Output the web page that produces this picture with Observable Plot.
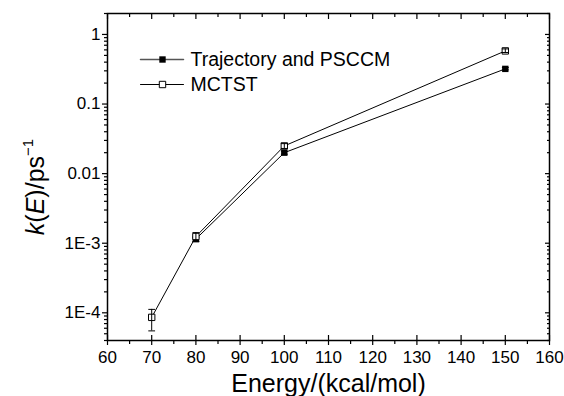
<!DOCTYPE html>
<html><head><meta charset="utf-8">
<script src="https://cdn.jsdelivr.net/npm/d3@7"></script>
<script src="https://cdn.jsdelivr.net/npm/@observablehq/plot@0.6"></script>
<style>body{margin:0;background:#fff}</style>
</head><body><div id="chart"></div>
<script>
// ---- data ----
const seriesNames = ["Trajectory and PSCCM", "MCTST"];
const trajEnergies = [80, 100, 150];
const trajValues = [1.15e-3, 0.020, 0.32];
const trajLow = [1.07e-3, 0.019, 0.31];
const trajHigh = [1.22e-3, 0.021, 0.335];
const mctstEnergies = [70, 80, 100, 150];
const mctstValues = [8.6e-5, 1.25e-3, 0.025, 0.58];
const mctstLow = [5.5e-5, 1.05e-3, 0.023, 0.55];
const mctstHigh = [1.12e-4, 1.42e-3, 0.027, 0.62];
const xTicks = [60, 70, 80, 90, 100, 110, 120, 130, 140, 150, 160];
const xMinorTicks = [65, 75, 85, 95, 105, 115, 125, 135, 145, 155];
const yTicks = [1e-4, 1e-3, 0.01, 0.1, 1];
const yTickLabels = ["1E-4", "1E-3", "0.01", "0.1", "1"];
const xLabel = "Energy/(kcal/mol)";

const traj = trajEnergies.map((e, i) => ({energy: e, value: trajValues[i], low: trajLow[i], high: trajHigh[i]}));
const mctst = mctstEnergies.map((e, i) => ({energy: e, value: mctstValues[i], low: mctstLow[i], high: mctstHigh[i]}));

const yDomain = [4e-5, 2];
const yMinorTicks = [];
for (let e = -5; e <= 0; e++) for (let k = 2; k <= 9; k++) {
  const v = k * Math.pow(10, e);
  if (v >= yDomain[0] && v <= yDomain[1]) yMinorTicks.push(v);
}

const font = "'Liberation Sans', Arial, Helvetica, sans-serif";
const lineShape = {draw(ctx, l) { ctx.moveTo(0, 0); ctx.lineTo(0, -l); }};
const blank = () => "";

const errBars = (data) => [
  Plot.ruleX(data, {x: "energy", y1: "low", y2: "high", stroke: "#000", strokeWidth: 1}),
  Plot.vector(data, {x: "energy", y: "low", rotate: 90, length: 6, anchor: "middle", shape: lineShape, stroke: "#000", strokeWidth: 1}),
  Plot.vector(data, {x: "energy", y: "high", rotate: 90, length: 6, anchor: "middle", shape: lineShape, stroke: "#000", strokeWidth: 1})
];

const chart = Plot.plot({
  width: 564, height: 396,
  marginTop: 13, marginRight: 15, marginBottom: 56, marginLeft: 107,
  style: {fontFamily: font, fontSize: "17px", color: "#000", background: "#fff"},
  x: {domain: [60, 160]},
  y: {type: "log", domain: yDomain},
  marks: [
    // axes
    Plot.axisX({anchor: "bottom", ticks: xTicks, tickSize: 0, tickPadding: 10, tickFormat: d => String(d), label: null, fontSize: 17}),
    Plot.axisX({anchor: "bottom", ticks: xTicks, tickSize: 10, dy: -5, tickFormat: blank, label: null, strokeWidth: 1.2}),
    Plot.axisX({anchor: "bottom", ticks: xMinorTicks, tickSize: 4, tickFormat: blank, label: null, strokeWidth: 1.2}),
    Plot.axisX({anchor: "top", ticks: xTicks, tickSize: 5, dy: 5, tickFormat: blank, label: null, strokeWidth: 1.2}),
    Plot.axisX({anchor: "top", ticks: xMinorTicks, tickSize: 3, dy: 3, tickFormat: blank, label: null, strokeWidth: 1.2}),
    Plot.axisY({anchor: "left", ticks: yTicks, tickSize: 5, tickPadding: 2, tickFormat: d => yTickLabels[yTicks.indexOf(d)], label: null, fontSize: 17, strokeWidth: 1.2}),
    Plot.axisY({anchor: "left", ticks: yMinorTicks, tickSize: 3, tickFormat: blank, label: null, strokeWidth: 1.2}),
    Plot.axisY({anchor: "right", ticks: yTicks, tickSize: 5, dx: -5, tickFormat: blank, label: null, strokeWidth: 1.2}),
    Plot.axisY({anchor: "right", ticks: yMinorTicks, tickSize: 3, dx: -3, tickFormat: blank, label: null, strokeWidth: 1.2}),
    Plot.frame({stroke: "#000", strokeWidth: 1.5}),
    Plot.text([xLabel], {frameAnchor: "bottom", dy: 51, lineAnchor: "bottom", fontSize: 25, fill: "#000"}),
    // data
    Plot.line(traj, {x: "energy", y: "value", stroke: "#000", strokeWidth: 1}),
    Plot.line(mctst, {x: "energy", y: "value", stroke: "#000", strokeWidth: 1}),
    ...errBars(traj),
    Plot.dot(traj, {x: "energy", y: "value", symbol: "square", r: 3.6, fill: "#000", stroke: null}),
    Plot.dot(mctst, {x: "energy", y: "value", symbol: "square", r: 3.6, fill: "#fff", stroke: "#000", strokeWidth: 1}),
    ...errBars(mctst),
    // legend
    Plot.vector([0], {frameAnchor: "top-left", dx: 54.5, dy: 46, rotate: 90, length: 43, anchor: "middle", shape: lineShape, stroke: "#555", strokeWidth: 1.5}),
    Plot.dot([0], {frameAnchor: "top-left", dx: 55, dy: 46, symbol: "square", r: 3.6, fill: "#000", stroke: null}),
    Plot.text([seriesNames[0]], {frameAnchor: "top-left", dx: 83, dy: 46, textAnchor: "start", lineAnchor: "middle", fontSize: 19.5, fill: "#000"}),
    Plot.vector([0], {frameAnchor: "top-left", dx: 54.5, dy: 71, rotate: 90, length: 43, anchor: "middle", shape: lineShape, stroke: "#000", strokeWidth: 1}),
    Plot.dot([0], {frameAnchor: "top-left", dx: 55, dy: 71, symbol: "square", r: 3.6, fill: "#fff", stroke: "#000", strokeWidth: 1}),
    Plot.text([seriesNames[1]], {frameAnchor: "top-left", dx: 83, dy: 71, textAnchor: "start", lineAnchor: "middle", fontSize: 19.5, fill: "#000"})
  ]
});
document.getElementById("chart").appendChild(chart);

// y-axis title with italic k and E and superscript
const svg = d3.select(chart);
const t = svg.append("text")
  .attr("transform", "translate(44,187) rotate(-90)")
  .attr("text-anchor", "middle")
  .attr("font-family", font)
  .attr("font-size", 25)
  .attr("fill", "#000");
t.append("tspan").attr("font-style", "italic").text("k");
t.append("tspan").text("(");
t.append("tspan").attr("font-style", "italic").text("E");
t.append("tspan").text(")/ps");
t.append("tspan").attr("dy", -11).attr("font-size", 15).text("−1");
</script>
</body></html>
